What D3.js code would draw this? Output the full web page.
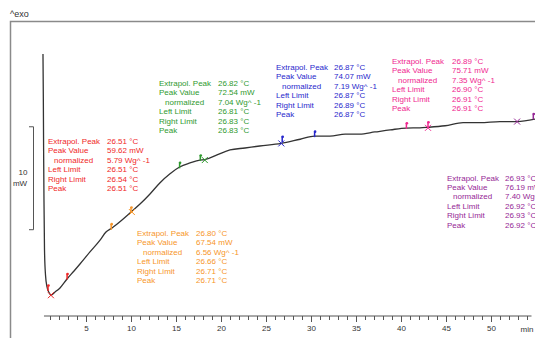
<!DOCTYPE html>
<html><head><meta charset="utf-8">
<script src="https://cdn.jsdelivr.net/npm/d3@7/dist/d3.min.js"></script>
<style>
html,body{margin:0;padding:0;background:#fff;}
svg{display:block;font-family:"Liberation Sans",Arial,sans-serif;}
</style></head>
<body>
<svg id="chart" width="535" height="338"></svg>
<script>
// ---- data ----
const curveTime = [0.22,0.26,0.29,0.33,0.39,0.5,0.67,0.89,1.11,1.56,2.11,2.89,3.67,4.33,5.44,6.56,7.22,7.89,9,10,11,12.11,13.2,14.3,15.4,16.56,17.67,18.2,19.56,21,22.67,24.3,26.67,28.8,30.4,32.1,33.8,35.4,37.1,38.8,40.6,42.1,43,44.9,46.9,48.8,51,52.9,55];
const curveHeat = [82.7,78.3,73.5,68.7,63.85,61.45,60.3,59.76,59.52,59.81,60.2,61.06,61.83,62.5,63.66,64.8,65.58,65.97,66.74,67.5,68.27,69.24,70.3,71.16,71.83,72.22,72.5,72.54,72.99,73.47,73.66,73.85,74.1,74.5,74.8,74.8,75.0,75.0,75.2,75.4,75.58,75.6,75.65,75.8,76.1,76.1,76.2,76.2,76.45];

const xTicks = [1,2,3,4,5,6,7,8,9,10,11,12,13,14,15,16,17,18,19,20,21,22,23,24,25,26,27,28,29,30,31,32,33,34,35,36,37,38,39,40,41,42,43,44,45,46,47,48,49,50,51,52,53,54];
const xLabels = [5,10,15,20,25,30,35,40,45,50];
const scaleBar = [65.8,75.7]; // 10 mW bracket

const peakNames = ["red","orange","green","blue","pink","purple"];
const peakTime = [1.1,10.1,18.2,26.7,43.0,52.9];
const peakHeat = [59.5,67.5,72.5,74.1,75.6,76.2];
const limitTimes = [[0.78,2.9],[7.8,10.0],[15.4,17.7],[26.8,30.4],[40.6,43.0],[54.7]];
const limitHeats = [[60.0,61.1],[65.9,67.5],[71.8,72.5],[74.3,74.8],[75.6,75.7],[76.5]];

const rowLabels = ["Extrapol. Peak","Peak Value","  normalized","Left Limit","Right Limit","Peak"];
const extrapolPeak = ["26.51 °C","26.80 °C","26.82 °C","26.87 °C","26.89 °C","26.93 °C"];
const peakValue = ["59.62 mW","67.54 mW","72.54 mW","74.07 mW","75.71 mW","76.19 mW"];
const normalized = ["5.79 Wg^ -1","6.56 Wg^ -1","7.04 Wg^ -1","7.19 Wg^ -1","7.35 Wg^ -1","7.40 Wg^ -1"];
const leftLimit = ["26.51 °C","26.66 °C","26.81 °C","26.87 °C","26.90 °C","26.92 °C"];
const rightLimit = ["26.54 °C","26.71 °C","26.83 °C","26.89 °C","26.91 °C","26.93 °C"];
const peakTemp = ["26.51 °C","26.71 °C","26.83 °C","26.87 °C","26.91 °C","26.92 °C"];

// ---- styles / layout ----
const colors = {red:"#f02828",orange:"#f7962a",green:"#2f9a2f",blue:"#2828cc",pink:"#f02890",purple:"#962896"};
const blockPos = [[48,107,144],[137,196,236],[159,218,86],[276,334,70],[392,452,64],[447,505,180.5]];
const lineH = 9.4;

const svg = d3.select("#chart");
const x = d3.scaleLinear().domain([0,55]).range([41,536]);
const y = d3.scaleLinear().domain([57.5,82.7]).range([316,54]);

// frame
svg.append("path").attr("d","M10.5,338 V21.5 H535").attr("fill","none").attr("stroke","#8a8a8a").attr("stroke-width",1.5);
svg.append("text").attr("x",10).attr("y",17).attr("font-size",9).attr("fill","#333").text("^exo");

// scale bar (10 mW)
svg.append("path").attr("d",`M29,${y(scaleBar[1])} H33.5 V${y(scaleBar[0])} H29`).attr("fill","none").attr("stroke","#555").attr("stroke-width",1);
svg.append("text").attr("x",23).attr("y",175).attr("text-anchor","middle").attr("font-size",8).attr("fill","#333").text("10");
svg.append("text").attr("x",20).attr("y",186).attr("text-anchor","middle").attr("font-size",8).attr("fill","#333").text("mW");

// axis
const axG = svg.append("g").attr("transform","translate(0,316)");
axG.append("line").attr("x1",x(0.33)).attr("x2",x(54.5)).attr("stroke","#555").attr("stroke-width",1);
const minorAxis = d3.axisBottom(x).tickValues(xTicks).tickSize(4).tickFormat("");
const gMinor = axG.append("g").call(minorAxis);
gMinor.select(".domain").remove();
gMinor.selectAll("line").attr("stroke","#555");
const majorAxis = d3.axisBottom(x).tickValues(xLabels).tickSize(6).tickPadding(3).tickFormat(d3.format("d"));
const gMajor = axG.append("g").call(majorAxis);
gMajor.select(".domain").remove();
gMajor.selectAll("line").attr("stroke","#555");
gMajor.selectAll("text").attr("font-size",8).attr("fill","#333").attr("font-family","Liberation Sans, Arial, sans-serif");
axG.append("text").attr("x",x(54)).attr("y",16).attr("text-anchor","middle").attr("font-size",8).attr("fill","#333").text("min");

// curve
const pts = curveTime.map((t,i)=>[t,curveHeat[i]]);
svg.append("path").datum(pts)
  .attr("d",d3.line().x(d=>x(d[0])).y(d=>y(d[1])).curve(d3.curveMonotoneX))
  .attr("fill","none").attr("stroke","#333").attr("stroke-width",1.3);

// markers
peakNames.forEach((n,i)=>{
  const c = colors[n];
  limitTimes[i].forEach((t,j)=>{
    const px = x(t), py = y(limitHeats[i][j]);
    svg.append("line").attr("x1",px).attr("x2",px).attr("y1",py-5).attr("y2",py+1).attr("stroke",c).attr("stroke-width",1.5);
    svg.append("circle").attr("cx",px+0.5).attr("cy",py-4.5).attr("r",1.3).attr("fill",c);
  });
  const px = x(peakTime[i]), py = y(peakHeat[i]);
  svg.append("path").attr("d",`M${px-3},${py-3}L${px+3},${py+3}M${px-3},${py+3}L${px+3},${py-3}`)
    .attr("stroke",c).attr("stroke-width",1).attr("fill","none");
});

// text blocks
peakNames.forEach((n,i)=>{
  const c = colors[n];
  const [lx,vx,by] = blockPos[i];
  const vals = [extrapolPeak[i],peakValue[i],normalized[i],leftLimit[i],rightLimit[i],peakTemp[i]];
  const g = svg.append("g").attr("font-size",8).attr("fill",c);
  rowLabels.forEach((lab,k)=>{
    g.append("text").attr("x",lx + (k===2?6:0)).attr("y",by+k*lineH).text(lab.trim());
    g.append("text").attr("x",vx).attr("y",by+k*lineH).text(vals[k]);
  });
});
</script>
</body></html>
